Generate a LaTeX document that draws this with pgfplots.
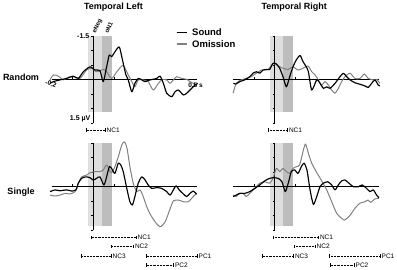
\documentclass[border=0pt]{standalone}
\usepackage{pgfplots}
\pgfplotsset{compat=1.18}
\usepackage{fontspec}
\setmainfont{Liberation Sans}

\definecolor{omis}{gray}{0.5}
\definecolor{lsh}{gray}{0.87}
\definecolor{dsh}{gray}{0.74}

\pgfplotsset{
  erp/.style={scale only axis, width=145.6pt, height=87pt,
    xmin=-0.2, xmax=0.5, ymin=-1.5, ymax=1.5, y dir=reverse,
    axis lines=none, clip=false, anchor=origin},
  snd/.style={black, line width=1.15pt, smooth, tension=0.4, no marks, line join=round},
  oms/.style={omis, line width=1.0pt, smooth, tension=0.4, no marks, line join=round},
}

\newcommand{\panelbg}[1]{%
  \fill[lsh] (axis cs:-0.025,-1.5) rectangle (axis cs:0.04,#1);
  \fill[dsh] (axis cs:0.04,-1.5) rectangle (axis cs:0.09,#1);
  \draw[line width=0.5pt] (axis cs:0,-1.5) -- (axis cs:0,1.5);
  \draw[line width=0.4pt] (axis cs:0,-1.5) -- ++(-2pt,0pt);
  \draw[line width=0.4pt] (axis cs:0,-1) -- ++(-2pt,0pt);
  \draw[line width=0.4pt] (axis cs:0,-0.5) -- ++(-2pt,0pt);
  \draw[line width=0.4pt] (axis cs:0,0.5) -- ++(-2pt,0pt);
  \draw[line width=0.4pt] (axis cs:0,1) -- ++(-2pt,0pt);
  \draw[line width=0.4pt] (axis cs:0,1.5) -- ++(-2pt,0pt);
  \draw[line width=0.4pt] (axis cs:-0.1,0) -- ++(0pt,2.2pt);
  \draw[line width=0.4pt] (axis cs:0.1,0) -- ++(0pt,2.2pt);
  \draw[line width=1.2pt] (axis cs:-0.2,0) -- (axis cs:0.5,0);
}

% range bar: x1, x2, y (image px from top), label
\newcommand{\rng}[4]{%
  \draw[line width=0.45pt, densely dotted] (#1pt,270pt-#3pt) -- (#2pt,270pt-#3pt);
  \draw[line width=0.45pt] (#1pt,270pt-#3pt-1.6pt) -- (#1pt,270pt-#3pt+1.6pt);
  \draw[line width=0.45pt] (#2pt,270pt-#3pt-1.6pt) -- (#2pt,270pt-#3pt+1.6pt);
  \node[anchor=west, inner sep=0pt, xshift=1.5pt, font=\fontsize{6.5}{7}\selectfont] at (#2pt,270pt-#3pt) {#4};
}

\begin{document}
\begin{tikzpicture}[x=1pt,y=1pt]
\path[use as bounding box] (0,0) rectangle (397,270);

% ---------------- Top left: Random, Temporal Left
\begin{axis}[erp, at={(93.3pt,190.7pt)}]
\panelbg{1.13}
\addplot[oms] coordinates {(-0.208,0.02)(-0.192,-0.15)(-0.168,-0.11)(-0.144,0.02)(-0.120,-0.07)(-0.096,-0.09)(-0.064,-0.03)(-0.032,-0.32)(-0.008,-0.38)(0.016,-0.26)(0.048,-0.34)(0.064,-0.26)(0.088,-0.03)(0.113,-0.26)(0.143,-0.48)(0.168,-0.15)(0.185,0.08)(0.200,0.26)(0.216,0.02)(0.240,0.02)(0.264,0.08)(0.288,0.37)(0.313,0.14)(0.329,0.02)(0.353,0.02)(0.369,0.14)(0.385,0.02)(0.401,-0.09)(0.425,-0.03)(0.449,0.00)(0.465,0.08)(0.481,0.14)(0.497,0.20)};
\addplot[snd] coordinates {(-0.208,0.14)(-0.192,0.08)(-0.160,0.02)(-0.128,-0.03)(-0.096,-0.11)(-0.072,-0.03)(-0.048,-0.26)(-0.016,-0.43)(0.008,-0.32)(0.032,-0.30)(0.048,0.08)(0.064,-0.43)(0.077,-0.84)(0.088,-0.78)(0.104,-0.95)(0.121,-1.11)(0.128,-1.06)(0.144,-0.55)(0.157,-0.15)(0.168,0.02)(0.185,0.43)(0.200,0.14)(0.216,-0.03)(0.233,0.02)(0.249,0.08)(0.273,0.02)(0.305,-0.03)(0.321,-0.11)(0.337,0.14)(0.353,0.48)(0.377,0.60)(0.393,0.43)(0.409,0.37)(0.433,0.54)(0.449,0.48)(0.473,0.31)(0.489,0.20)(0.502,0.14)};
\end{axis}

% ---------------- Top right: Random, Temporal Right
\begin{axis}[erp, at={(274.7pt,190.7pt)}]
\panelbg{1.13}
\addplot[oms] coordinates {(-0.200,0.48)(-0.185,0.14)(-0.161,0.02)(-0.137,-0.03)(-0.113,-0.09)(-0.088,-0.21)(-0.064,-0.32)(-0.032,-0.34)(-0.008,-0.55)(0.016,-0.46)(0.040,-0.38)(0.064,-0.34)(0.088,-0.43)(0.112,-0.32)(0.136,-0.38)(0.160,-0.46)(0.178,-0.26)(0.194,-0.15)(0.210,0.02)(0.226,0.20)(0.242,0.08)(0.258,0.20)(0.274,0.37)(0.290,0.48)(0.306,0.31)(0.322,0.08)(0.338,-0.09)(0.362,-0.21)(0.386,-0.03)(0.410,-0.03)(0.431,-0.18)(0.450,-0.03)(0.474,0.02)(0.490,0.00)(0.506,0.14)};
\addplot[snd] coordinates {(-0.199,0.14)(-0.186,0.16)(-0.168,0.08)(-0.144,0.02)(-0.120,-0.09)(-0.104,-0.21)(-0.088,-0.26)(-0.072,-0.21)(-0.056,-0.32)(-0.040,-0.34)(-0.024,-0.34)(-0.008,-0.55)(0.008,-0.53)(0.024,-0.38)(0.040,-0.09)(0.056,0.26)(0.072,-0.09)(0.088,-0.43)(0.104,-0.67)(0.122,-0.82)(0.136,-0.61)(0.152,-0.43)(0.162,-0.26)(0.178,0.37)(0.202,0.02)(0.218,0.14)(0.234,0.31)(0.250,0.26)(0.266,0.31)(0.290,0.14)(0.314,-0.09)(0.330,-0.21)(0.346,-0.09)(0.362,0.02)(0.386,0.12)(0.410,0.17)(0.434,0.23)(0.450,0.28)(0.466,0.14)(0.482,0.02)(0.498,0.20)(0.506,0.23)};
\end{axis}

% ---------------- Bottom left: Single, Temporal Left
\begin{axis}[erp, at={(93.3pt,83.3pt)}]
\panelbg{1.35}
\addplot[oms] coordinates {(-0.208,0.29)(-0.184,0.32)(-0.160,0.29)(-0.136,0.23)(-0.112,0.25)(-0.088,0.17)(-0.072,-0.12)(-0.056,-0.34)(-0.032,-0.40)(-0.016,-0.48)(0.008,-0.52)(0.032,-0.52)(0.048,-0.58)(0.064,-0.75)(0.077,-0.58)(0.088,-0.48)(0.104,-0.69)(0.120,-1.03)(0.137,-1.44)(0.150,-1.55)(0.162,-1.33)(0.176,-0.69)(0.192,-0.12)(0.209,0.17)(0.225,0.11)(0.240,0.34)(0.257,0.69)(0.273,0.94)(0.297,1.21)(0.321,1.38)(0.345,1.22)(0.369,0.77)(0.385,0.49)(0.409,0.46)(0.433,0.52)(0.457,0.52)(0.473,0.40)(0.496,0.23)};
\addplot[snd] coordinates {(-0.208,0.17)(-0.184,0.11)(-0.160,0.14)(-0.128,0.11)(-0.104,0.15)(-0.083,0.11)(-0.072,-0.12)(-0.056,-0.29)(-0.035,-0.34)(-0.016,-0.31)(0.000,-0.23)(0.016,-0.29)(0.032,-0.34)(0.051,-0.06)(0.064,-0.34)(0.077,-0.69)(0.088,-0.63)(0.104,-0.46)(0.120,-0.81)(0.132,-0.75)(0.144,-0.52)(0.161,0.06)(0.176,0.52)(0.188,0.63)(0.200,0.34)(0.216,-0.12)(0.233,-0.34)(0.249,-0.23)(0.264,-0.06)(0.281,0.06)(0.305,0.03)(0.329,0.06)(0.353,0.17)(0.369,0.29)(0.385,0.11)(0.398,-0.03)(0.413,0.11)(0.430,0.23)(0.449,0.34)(0.465,0.23)(0.481,0.15)(0.497,0.26)};
\end{axis}

% ---------------- Bottom right: Single, Temporal Right
\begin{axis}[erp, at={(274.7pt,83.3pt)}]
\panelbg{1.35}
\addplot[oms] coordinates {(-0.200,0.29)(-0.185,0.34)(-0.168,0.23)(-0.152,0.23)(-0.137,0.34)(-0.120,0.23)(-0.096,0.06)(-0.072,-0.12)(-0.048,-0.17)(-0.024,-0.12)(-0.008,-0.29)(0.008,-0.63)(0.024,-0.52)(0.040,-0.63)(0.056,-0.52)(0.072,-0.46)(0.088,-0.63)(0.104,-0.69)(0.120,-0.75)(0.136,-1.21)(0.148,-1.47)(0.162,-1.15)(0.178,-0.81)(0.202,-0.49)(0.226,-0.20)(0.250,0.11)(0.274,0.52)(0.298,0.92)(0.322,1.09)(0.336,1.15)(0.362,0.99)(0.386,0.74)(0.410,0.57)(0.434,0.52)(0.448,0.46)(0.462,0.54)(0.482,0.42)(0.501,0.40)};
\addplot[snd] coordinates {(-0.200,0.34)(-0.185,0.29)(-0.168,0.23)(-0.144,0.23)(-0.120,0.17)(-0.096,0.06)(-0.072,-0.06)(-0.048,-0.20)(-0.024,-0.29)(-0.008,-0.31)(0.016,-0.29)(0.035,-0.17)(0.051,0.17)(0.067,-0.17)(0.080,-0.52)(0.096,-0.58)(0.112,-0.46)(0.128,-0.69)(0.141,-0.81)(0.155,-0.58)(0.170,0.11)(0.186,0.61)(0.202,0.34)(0.218,0.00)(0.234,-0.12)(0.255,-0.17)(0.274,-0.06)(0.290,0.11)(0.306,-0.06)(0.322,-0.20)(0.338,-0.23)(0.357,-0.12)(0.378,0.00)(0.402,0.00)(0.421,-0.06)(0.442,0.06)(0.458,0.17)(0.474,0.11)(0.490,0.29)(0.501,0.38)};
\end{axis}

% ---------------- Titles and labels
\node[font=\bfseries\fontsize{9}{10}\selectfont] at (113.5,263) {Temporal Left};
\node[font=\bfseries\fontsize{9}{10}\selectfont] at (294.3,263) {Temporal Right};
\node[font=\bfseries\fontsize{9}{10}\selectfont] at (21,192.7) {Random};
\node[font=\bfseries\fontsize{9}{10}\selectfont] at (21,78) {Single};

% axis value labels (top-left panel)
\node[anchor=east, inner sep=0.5pt, font=\bfseries\fontsize{7}{8}\selectfont] at (90,233.5) {-1.5};
\node[anchor=east, inner sep=0.5pt, font=\bfseries\fontsize{7}{8}\selectfont] at (91,151.5) {1.5 µV};
\node[inner sep=0.5pt, rotate=-20, font=\bfseries\fontsize{6.5}{7}\selectfont] at (51,186) {-0.2};
\node[inner sep=0.5pt, font=\bfseries\fontsize{6.5}{7}\selectfont] at (195.5,185) {0.5 s};

% component labels
\node[anchor=south west, rotate=65, inner sep=0.3pt, font=\bfseries\fontsize{6}{7}\selectfont] at (97,235.5) {eNeg};
\node[anchor=south west, rotate=65, inner sep=0.3pt, font=\bfseries\fontsize{6}{7}\selectfont] at (108.5,235.5) {oN1};

% legend
\draw[black, line width=1.3pt] (176.7,237.5) -- (187,237.5);
\draw[omis, line width=1.1pt] (176.7,226) -- (187,226);
\node[anchor=west, inner sep=0pt, font=\bfseries\fontsize{9.5}{10}\selectfont] at (192,237.5) {Sound};
\node[anchor=west, inner sep=0pt, font=\bfseries\fontsize{9.5}{10}\selectfont] at (192,226) {Omission};

% range bars
\rng{86.7}{105}{130}{NC1}
\rng{268.3}{287.3}{130}{NC1}

\rng{91.7}{136}{237.3}{NC1}
\rng{111}{133.3}{246.7}{NC2}
\rng{81}{111}{256}{NC3}
\rng{146.7}{197}{256}{PC1}
\rng{146.7}{173.3}{265}{PC2}

\rng{273.3}{318.3}{237.3}{NC1}
\rng{294.3}{315}{246.7}{NC2}
\rng{262.7}{293.3}{256}{NC3}
\rng{329.3}{380}{256}{PC1}
\rng{330.7}{354}{265}{PC2}
\end{tikzpicture}
\end{document}
